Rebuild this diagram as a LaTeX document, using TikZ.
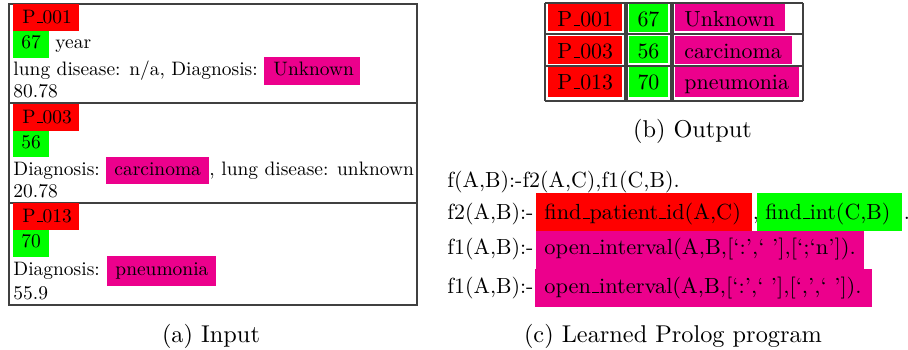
\documentclass[tikz,border=0pt]{standalone}
\definecolor{cred}{RGB}{255,0,0}
\definecolor{cgreen}{RGB}{0,255,0}
\definecolor{cmag}{RGB}{236,0,140}
\newcommand{\us}{\leavevmode\kern.06em\vbox{\hrule width.3em}}
\newcommand{\smA}[1]{\scalebox{0.8}{\fontsize{10}{12}\selectfont #1}}
\newcommand{\smC}[1]{\scalebox{0.9}{\fontsize{10}{12}\selectfont #1}}
\newcommand{\smW}[2]{\scalebox{#1}[0.9]{\fontsize{10}{12}\selectfont #2}}
\begin{document}
\begin{tikzpicture}[x=0.4115pt,y=-0.4115pt,
  frame/.style={draw=black!75,line width=0.45pt},
  ta/.style={inner sep=0pt,anchor=base west},
  tcc/.style={inner sep=0pt,anchor=base},
  capt/.style={font=\fontsize{10}{12}\selectfont,inner sep=0pt,anchor=base}]
\useasboundingbox (0,0) rectangle (908,349);

% ---------- (a) Input ----------
\draw[frame] (9,4) rectangle (417,305);
\draw[frame] (9,103) -- (417,103);
\draw[frame] (9,203) -- (417,203);

\fill[cred] (13,4) rectangle (79,31);
\node[ta] (ida) at (22,23) {\smA{P\us001}};
\fill[cgreen] (13,31) rectangle (49,58);
\node[ta] (agea) at (21,48) {\smA{67}};
\node[ta] (yeara) at (55,48) {\smA{year}};
\node[ta] (la) at (13,75) {\smA{lung disease: n/a, Diagnosis:}};
\fill[cmag] (264,57) rectangle (360,85);
\node[ta] (da) at (273,75) {\smA{Unknown}};
\node[ta] (va) at (13,97) {\smA{80.78}};

\fill[cred] (13,104) rectangle (79,131);
\node[ta] (idb) at (22,123) {\smA{P\us003}};
\fill[cgreen] (13,131) rectangle (49,157);
\node[ta] (ageb) at (21,148) {\smA{56}};
\node[ta] (lb) at (13,175) {\smA{Diagnosis:}};
\fill[cmag] (106,157) rectangle (209,184);
\node[ta] (db) at (114,175) {\smA{carcinoma}};
\node[ta] (lb2) at (209,175) {\smA{, lung disease: unknown}};
\node[ta] (vb) at (13,197) {\smA{20.78}};

\fill[cred] (13,203) rectangle (79,230);
\node[ta] (idc) at (22,222) {\smA{P\us013}};
\fill[cgreen] (13,230) rectangle (49,257);
\node[ta] (agec) at (21,247) {\smA{70}};
\node[ta] (lc) at (13,275) {\smA{Diagnosis:}};
\fill[cmag] (107,256) rectangle (216,286);
\node[ta] (dc) at (115,275) {\smA{pneumonia}};
\node[ta] (vc) at (13,299) {\smA{55.9}};

\node[capt] (capa) at (211,342) {(a) Input};

% ---------- (b) Output ----------
\fill[cred] (548,4) rectangle (622,31);
\fill[cred] (548,36) rectangle (622,64);
\fill[cred] (548,67) rectangle (622,97);
\fill[cgreen] (629,4) rectangle (668,31.7);
\fill[cgreen] (629,35.7) rectangle (668,63.3);
\fill[cgreen] (629,66.7) rectangle (668,96.7);
\fill[cmag] (675,4) rectangle (785,31);
\fill[cmag] (675,36) rectangle (792,64);
\fill[cmag] (675,67) rectangle (799,97);
\foreach \yy in {3,34,66,101} \draw[frame] (545,\yy) -- (803,\yy);
\foreach \xx in {545,625,627,671,673,803} \draw[frame] (\xx,3) -- (\xx,101);

\node[ta] (o1a) at (557,26) {\smC{P\us001}};
\node[tcc] (o1b) at (648.5,26) {\smC{67}};
\node[ta] (o1c) at (684,26) {\smC{Unknown}};
\node[ta] (o2a) at (557,58) {\smC{P\us003}};
\node[tcc] (o2b) at (648.5,58) {\smC{56}};
\node[ta] (o2c) at (684,58) {\smC{carcinoma}};
\node[ta] (o3a) at (557,89) {\smC{P\us013}};
\node[tcc] (o3b) at (648.5,89) {\smC{70}};
\node[ta] (o3c) at (684,89) {\smC{pneumonia}};

\node[capt] (capb) at (692.5,137) {(b) Output};

% ---------- (c) Learned Prolog program ----------
\node[ta] (r1) at (447,187) {\smC{f(A,B):-f2(A,C),f1(C,B).}};

\node[ta] (r2) at (447,219) {\smC{f2(A,B):-}};
\fill[cred] (536,193) rectangle (752,231);
\node[ta] (r2a) at (544,219) {\smW{0.915}{find\us patient\us id(A,C)}};
\node[ta] (r2c) at (752.5,219) {\smC{,}};
\fill[cgreen] (757,193) rectangle (902,231);
\node[ta] (r2b) at (765,219) {\smC{find\us int(C,B)}};
\node[ta] (r2d) at (903.5,219) {\smC{.}};

\fill[cmag] (536,231) rectangle (864,269);
\node[ta] (r3) at (447,254) {\smC{f1(A,B):-}};
\node[ta] (r3a) at (544,254) {\smW{0.925}{open\us interval(A,B,[`:',` '],[`;`n']).}};

\fill[cmag] (535,269) rectangle (872,307);
\node[ta] (r4) at (447,293) {\smC{f1(A,B):-}};
\node[ta] (r4a) at (544,293) {\smW{0.92}{open\us interval(A,B,[`:',` '],[`,',` ']).}};

\node[capt] (capc) at (673,342) {(c) Learned Prolog program};
\end{tikzpicture}
\end{document}
